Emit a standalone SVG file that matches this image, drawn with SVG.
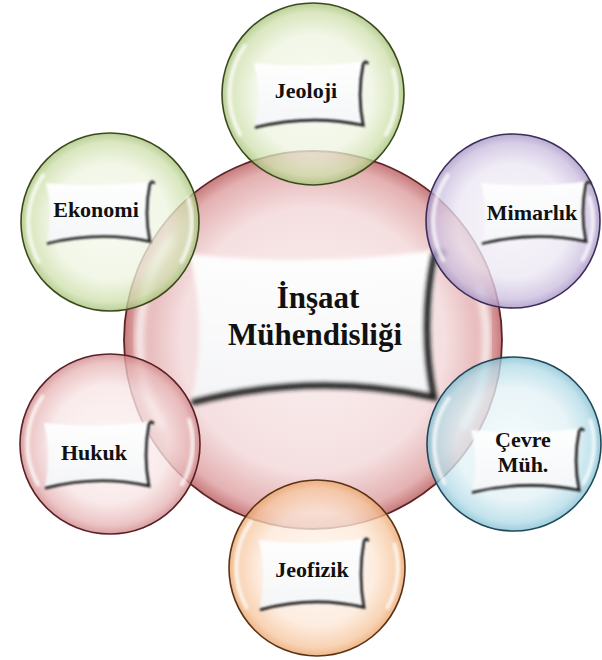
<svg xmlns="http://www.w3.org/2000/svg" xmlns:xlink="http://www.w3.org/1999/xlink" width="602" height="660" viewBox="0 0 602 660">
<style>
text{font-family:'Liberation Serif','Times New Roman','DejaVu Serif',serif;font-weight:bold;fill:#111;text-anchor:middle}
.s{font-size:22px}
.c{font-size:31px}
.sat{fill-opacity:0.78;stroke-width:1.6}
.gl{fill:none;stroke:#fff;stroke-width:4;stroke-linecap:round;opacity:0.85;filter:url(#blur2)}
</style>
<defs>
<filter id="blur2" x="-20%" y="-20%" width="140%" height="140%"><feGaussianBlur stdDeviation="2"/></filter>
<filter id="blur1" x="-20%" y="-20%" width="140%" height="140%"><feGaussianBlur stdDeviation="0.9"/></filter>
<radialGradient id="gRed" cx="50%" cy="50%" r="50%">
<stop offset="0" stop-color="#fbf1f1"/><stop offset="0.7" stop-color="#f5dfe0"/><stop offset="0.92" stop-color="#e4b1b2"/><stop offset="1" stop-color="#c77a7c"/>
</radialGradient>
<radialGradient id="gGreen" cx="50%" cy="50%" r="50%">
<stop offset="0" stop-color="#f7faf0"/><stop offset="0.65" stop-color="#eef4e0"/><stop offset="0.9" stop-color="#cfe0ad"/><stop offset="1" stop-color="#a7c27a"/>
</radialGradient>
<radialGradient id="gPurple" cx="50%" cy="50%" r="50%">
<stop offset="0" stop-color="#f6f3fa"/><stop offset="0.65" stop-color="#ece7f3"/><stop offset="0.9" stop-color="#cbbedf"/><stop offset="1" stop-color="#a694c4"/>
</radialGradient>
<radialGradient id="gBlue" cx="50%" cy="50%" r="50%">
<stop offset="0" stop-color="#f1f9fb"/><stop offset="0.65" stop-color="#e1f1f6"/><stop offset="0.9" stop-color="#b3dbe7"/><stop offset="1" stop-color="#83bfd2"/>
</radialGradient>
<radialGradient id="gOrange" cx="50%" cy="50%" r="50%">
<stop offset="0" stop-color="#fef6ef"/><stop offset="0.65" stop-color="#fde8d8"/><stop offset="0.9" stop-color="#f6c79f"/><stop offset="1" stop-color="#eba46a"/>
</radialGradient>
<radialGradient id="gPink" cx="50%" cy="50%" r="50%">
<stop offset="0" stop-color="#fcf3f3"/><stop offset="0.65" stop-color="#f8e5e5"/><stop offset="0.9" stop-color="#e7b5b6"/><stop offset="1" stop-color="#cf8688"/>
</radialGradient>
<linearGradient id="gPanel" x1="0" y1="0" x2="0" y2="1">
<stop offset="0" stop-color="#ffffff"/><stop offset="1" stop-color="#f4f6f8"/>
</linearGradient>
<g id="panel">
<path d="M1,3 Q55,9 109,1 Q101,33 106,63 Q55,55 2,65 Q9,34 1,3 Z" fill="url(#gPanel)" fill-opacity="0.95" filter="url(#blur1)"/>
<path d="M3,66 Q55,53 106,64 Q100,34 106,4 Q108,0 110,3" fill="none" stroke="#1e1e1e" stroke-width="2.6" stroke-linecap="round" filter="url(#blur1)"/>
</g>
<g id="gloss">
<path class="gl" d="M-75,-53 A92,92 0 0 0 -80,45"/>
<path class="gl" d="M88,-27 A92,92 0 0 1 80,45" opacity="0.6"/>
</g>
</defs>

<g id="node-insaat">
<circle cx="313" cy="340" r="189" fill="url(#gRed)" stroke="#5e2428" stroke-width="1.8"/>
<use xlink:href="#gloss" transform="translate(313,340) scale(1.89)"/>
<use xlink:href="#panel" transform="translate(187,247) scale(2.33,2.35)"/>
<text class="c" x="318" y="308">İnşaat</text>
<text class="c" x="315" y="345">Mühendisliği</text>
</g>

<g id="node-jeoloji">
<circle class="sat" cx="313" cy="94" r="91" fill="url(#gGreen)" stroke="#3b4a1c"/>
<use xlink:href="#gloss" transform="translate(313,94) scale(0.91)"/>
<use xlink:href="#panel" transform="translate(253,60) scale(1.04,1.02)"/>
<text class="s" x="306" y="98">Jeoloji</text>
</g>

<g id="node-mimarlik">
<circle class="sat" cx="513" cy="221" r="87" fill="url(#gPurple)" stroke="#3c2e5a"/>
<use xlink:href="#gloss" transform="translate(513,221) scale(0.87)"/>
<use xlink:href="#panel" transform="translate(480,180) scale(1.0,0.96)"/>
<text class="s" x="532" y="220">Mimarlık</text>
</g>

<g id="node-cevre">
<circle class="sat" cx="514" cy="444" r="87" fill="url(#gBlue)" stroke="#1f4858"/>
<use xlink:href="#gloss" transform="translate(514,444) scale(0.87)"/>
<use xlink:href="#panel" transform="translate(470,427) scale(1.03,0.99)"/>
<text class="s" x="523" y="447">Çevre</text>
<text class="s" x="523" y="472">Müh.</text>
</g>

<g id="node-jeofizik">
<circle class="sat" cx="317" cy="568" r="88" fill="url(#gOrange)" stroke="#5a3216"/>
<use xlink:href="#gloss" transform="translate(317,568) scale(0.88)"/>
<use xlink:href="#panel" transform="translate(258,537) scale(1.0,1.1)"/>
<text class="s" x="312" y="577">Jeofizik</text>
</g>

<g id="node-ekonomi">
<circle class="sat" cx="110" cy="222" r="89" fill="url(#gGreen)" stroke="#3b4a1c"/>
<use xlink:href="#gloss" transform="translate(110,222) scale(0.89)"/>
<use xlink:href="#panel" transform="translate(45,180) scale(0.99,0.96)"/>
<text class="s" x="96" y="217">Ekonomi</text>
</g>

<g id="node-hukuk">
<circle class="sat" cx="110" cy="444" r="90" fill="url(#gPink)" stroke="#5a2226"/>
<use xlink:href="#gloss" transform="translate(110,444) scale(0.9)"/>
<use xlink:href="#panel" transform="translate(43,420) scale(1.0,1.03)"/>
<text class="s" x="94" y="460">Hukuk</text>
</g>
</svg>
